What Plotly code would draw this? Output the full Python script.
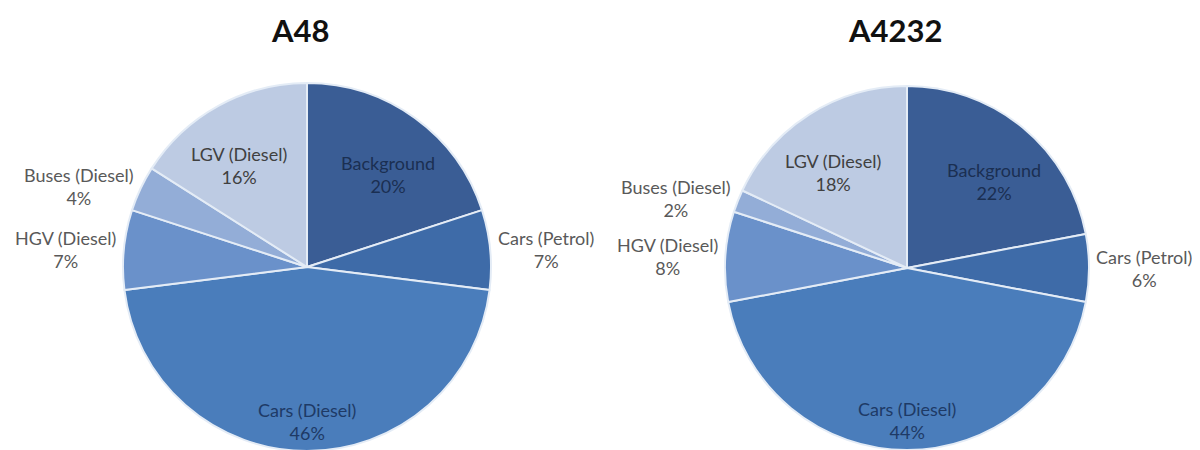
import math
import plotly.graph_objects as go

categories = ["Background", "Cars (Petrol)", "Cars (Diesel)", "HGV (Diesel)", "Buses (Diesel)", "LGV (Diesel)"]
a48_values = [20, 7, 46, 7, 4, 16]
a4232_values = [22, 6, 44, 8, 2, 18]
chart_titles = ["A48", "A4232"]

# style
slice_colors = ["#3A5D95", "#3E6BA8", "#4A7DBB", "#6A91CA", "#93ADD7", "#BDCBE3"]
label_mode = ["inside", "outside", "inside", "outside", "outside", "inside"]
label_colors = ["#1A2F52", "#595959", "#1E3A66", "#595959", "#595959", "#404040"]
W, H = 1200, 450
OFF = 8  # page body margin
INSIDE_NUDGE = (9, 7)
pies = [
    dict(cx=307 - OFF, cy=267 - OFF, r=184, tdx=-7),
    dict(cx=907 - OFF, cy=268 - OFF, r=182, tdx=-12),
]

fig = go.Figure()
annotations = []
for vals, title, p in zip([a48_values, a4232_values], chart_titles, pies):
    cx, cy, r = p["cx"], p["cy"], p["r"]
    fig.add_trace(go.Pie(
        labels=categories, values=vals, sort=False, direction="clockwise", rotation=0,
        marker=dict(colors=slice_colors, line=dict(color="#E4ECF6", width=2)),
        textinfo="none", hoverinfo="label+percent", showlegend=False,
        domain=dict(x=[(cx - r) / W, (cx + r) / W],
                    y=[max(0, 1 - (cy + r) / H), 1 - (cy - r) / H]),
    ))
    total = sum(vals)
    cum = 0
    for cat, v, mode, col in zip(categories, vals, label_mode, label_colors):
        theta = 2 * math.pi * (cum + v / 2) / total
        cum += v
        sx, sy = math.sin(theta), -math.cos(theta)
        pct = round(100 * v / total)
        text = f"{cat}<br>{pct}%"
        if mode == "inside":
            if v / total > 0.4:
                px, py = cx + sx * r * 0.84, cy + sy * r * 0.84
            else:
                px = cx + sx * r * 0.67 + math.copysign(INSIDE_NUDGE[0], sx)
                py = cy + sy * r * 0.67 + INSIDE_NUDGE[1]
            xa = "center"
        else:
            px, py = cx + sx * r * 1.03, cy + sy * r * 1.03
            xa = "left" if sx > 0 else "right"
        annotations.append(dict(
            x=px / W, y=1 - py / H, xref="paper", yref="paper", text=text, showarrow=False,
            xanchor=xa, yanchor="middle", align="center",
            font=dict(family="Lato", size=18, color=col),
        ))
    annotations.append(dict(
        x=(cx + p["tdx"]) / W, y=1 - (30 - OFF) / H, xref="paper", yref="paper", text=f"<b>{title}</b>",
        showarrow=False, xanchor="center", yanchor="middle",
        font=dict(family="Lato", size=31, color="#111111"),
    ))

fig.update_layout(
    width=W, height=H, margin=dict(l=0, r=0, t=0, b=0),
    paper_bgcolor="white", plot_bgcolor="white",
    annotations=annotations,
)
fig.write_html("out.html")
